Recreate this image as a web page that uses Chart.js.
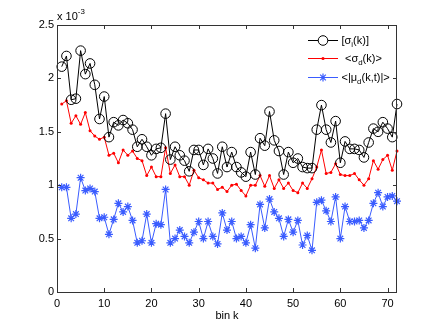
<!DOCTYPE html>
<html lang="en">
<head>
<meta charset="UTF-8">
<title>bin k</title>
<script src="https://cdn.jsdelivr.net/npm/chart.js"></script>
<style>
  body { margin:0; background:#fff; }
  #wrap { width:438px; height:329px; }
</style>
</head>
<body>
<div id="wrap"><canvas id="c" width="438" height="329"></canvas></div>
<script>
// values are in units of 1e-3 (axis shows "x 10^-3")
const bins = [1,2,3,4,5,6,7,8,9,10,11,12,13,14,15,16,17,18,19,20,21,22,23,24,25,26,27,28,29,30,31,32,33,34,35,36,
  37,38,39,40,41,42,43,44,45,46,47,48,49,50,51,52,53,54,55,56,57,58,59,60,61,62,63,64,65,66,67,68,69,70,71,72];
const sigmaI = [2.11,2.21,1.80,1.81,2.26,2.04,2.14,1.94,1.62,1.83, 1.45,1.59,1.56,1.61,1.58,1.52,1.36,1.43,1.36,1.28,
  1.34,1.35,1.67,1.24,1.36,1.28,1.23,1.13,1.33,1.33, 1.19,1.34,1.25,1.11,1.36,1.17,1.31,1.17,1.12,1.08,
  1.31,1.10,1.44,1.37,1.69,1.42,1.32,1.10,1.31,1.21, 1.25,1.17,1.16,1.16,1.52,1.75,1.52,1.40,1.60,1.21,
  1.41,1.34,1.34,1.33,1.26,1.40,1.53,1.50,1.59,1.53,1.45,1.76];
const sigmaD = [1.76,1.79,1.58,1.65,1.57,1.68,1.51,1.46,1.43,1.45, 1.28,1.30,1.21,1.33,1.28,1.32,1.25,1.23,1.09,1.17,
  1.08,1.08,1.35,1.11,1.19,1.08,1.08,1.00,1.14,1.07, 1.05,1.02,1.02,0.96,0.98,0.94,1.00,1.01,0.95,0.90,
  1.00,1.00,1.09,0.99,1.09,0.97,1.05,0.97,1.02,0.95, 0.93,1.02,0.97,1.06,1.17,1.33,1.11,1.12,1.20,1.10,
  1.09,1.09,1.11,1.05,1.00,1.06,1.23,1.15,1.24,1.28,1.14,1.32];
const muD = [0.98,0.98,0.69,0.73,1.07,0.95,0.97,0.94,0.69,0.70, 0.54,0.68,0.83,0.75,0.80,0.67,0.46,0.48,0.73,0.46,
  0.64,0.63,0.96,0.46,0.50,0.58,0.52,0.46,0.56,0.66, 0.50,0.66,0.52,0.45,0.74,0.58,0.66,0.50,0.52,0.46,
  0.63,0.41,0.82,0.60,0.87,0.75,0.69,0.52,0.68,0.56, 0.67,0.44,0.53,0.39,0.84,0.86,0.76,0.66,0.89,0.50,
  0.80,0.66,0.66,0.67,0.60,0.67,0.83,0.93,0.80,0.89,0.90,0.85];
const xTicks = [0,10,20,30,40,50,60,70];
const yTicks = [0,0.5,1,1.5,2,2.5];

const FONT = "'Liberation Sans', Arial, sans-serif";
const BLUE = '#3a5cff';

function pts(vals){ return bins.map((k,i) => ({x:k, y:vals[i]})); }

// draw text with sub/superscript pieces: [text, 'n'|'sub'|'sup']
function richText(ctx, parts, x, y, size){
  ctx.textBaseline = 'middle';
  ctx.textAlign = 'left';
  parts.forEach(([t, kind]) => {
    const s = kind === 'n' ? size : size * 0.72;
    const dy = kind === 'sub' ? size * 0.35 : kind === 'sup' ? -size * 0.45 : 0;
    ctx.font = s + 'px ' + FONT;
    ctx.fillText(t, x, y + dy);
    x += ctx.measureText(t).width;
  });
}

const frame = {
  id: 'frame',
  afterDraw(chart){
    const {ctx, chartArea:a, scales:{x, y}} = chart;
    ctx.save();
    ctx.strokeStyle = '#333';
    ctx.lineWidth = 1;
    ctx.strokeRect(Math.round(a.left)+0.5, Math.round(a.top)+0.5, Math.round(a.right-a.left)-1, Math.round(a.bottom-a.top));
    ctx.beginPath();
    xTicks.forEach(v => {
      const px = Math.round(x.getPixelForValue(v)) + 0.5;
      ctx.moveTo(px, a.bottom); ctx.lineTo(px, a.bottom - 4);
      ctx.moveTo(px, a.top); ctx.lineTo(px, a.top + 4);
    });
    yTicks.forEach(v => {
      const py = Math.round(y.getPixelForValue(v)) + 0.5;
      ctx.moveTo(a.left, py); ctx.lineTo(a.left + 4, py);
      ctx.moveTo(a.right, py); ctx.lineTo(a.right - 4, py);
    });
    ctx.stroke();

    ctx.fillStyle = '#000';
    richText(ctx, [['x 10','n'],['-3','sup']], 57, 17, 11);

    // legend
    const rows = [
      {y:40.5, color:'#000', mark:'circle', tx:341.5, parts:[['[σ','n'],['i','sub'],['(k)]','n']]},
      {y:58.5, color:'#ff0000', mark:'dot', tx:345, parts:[['<σ','n'],['d','sub'],['(k)>','n']]},
      {y:77.5, color:BLUE, mark:'star', tx:341.5, parts:[['<|μ','n'],['d','sub'],['(k,t)|>','n']]}
    ];
    rows.forEach(r => {
      ctx.strokeStyle = r.color; ctx.fillStyle = r.color; ctx.lineWidth = 1;
      ctx.beginPath(); ctx.moveTo(308, r.y); ctx.lineTo(338, r.y); ctx.stroke();
      const cx = 323;
      if (r.mark === 'circle') {
        ctx.beginPath(); ctx.arc(cx, r.y, 4.8, 0, Math.PI*2); ctx.fillStyle = '#fff'; ctx.fill(); ctx.stroke();
      } else if (r.mark === 'dot') {
        ctx.beginPath(); ctx.arc(cx, r.y, 1.6, 0, Math.PI*2); ctx.fill();
      } else {
        ctx.lineWidth = 1.2;
        ctx.beginPath();
        for (let i = 0; i < 4; i++) {
          const ang = i * Math.PI / 4;
          ctx.moveTo(cx - 4*Math.cos(ang), r.y - 4*Math.sin(ang));
          ctx.lineTo(cx + 4*Math.cos(ang), r.y + 4*Math.sin(ang));
        }
        ctx.stroke();
      }
      ctx.fillStyle = '#000';
      richText(ctx, r.parts, r.tx, r.y, 11);
    });
    ctx.restore();
  }
};

new Chart(document.getElementById('c').getContext('2d'), {
  type: 'line',
  data: {
    datasets: [
      { label:'[σi(k)]', data: pts(sigmaI), borderColor:'#000', borderWidth:1, tension:0, clip:false,
        pointStyle:'circle', pointRadius:4.8, pointBorderColor:'#000', pointBackgroundColor:'rgba(0,0,0,0)', pointBorderWidth:1 },
      { label:'<σd(k)>', data: pts(sigmaD), borderColor:'#ff0000', borderWidth:1, tension:0, clip:false,
        pointStyle:'circle', pointRadius:1.5, pointBorderColor:'#ff0000', pointBackgroundColor:'#ff0000', pointBorderWidth:0 },
      { label:'<|μd(k,t)|>', data: pts(muD), borderColor:BLUE, borderWidth:1, tension:0, clip:false,
        pointStyle:'star', pointRadius:4, pointBorderColor:BLUE, pointBorderWidth:1.2 }
    ]
  },
  options: {
    responsive: false,
    animation: false,
    layout: { padding: { left:0, right:41, top:25, bottom:0 } },
    plugins: { legend: { display:false }, tooltip: { enabled:false } },
    scales: {
      x: {
        type:'linear', min:0, max:72,
        afterFit: s => { s.height = 37; },
        afterBuildTicks: s => { s.ticks = xTicks.map(v => ({value:v})); },
        grid: { display:false, drawTicks:false },
        border: { display:false },
        ticks: { padding:5, color:'#000', maxRotation:0, autoSkip:false, font:{family:FONT, size:11} },
        title: { display:true, text:'bin k', color:'#000', font:{family:FONT, size:11}, padding:{top:0, bottom:6} }
      },
      y: {
        type:'linear', min:0, max:2.5,
        afterFit: s => { s.width = 57; },
        afterBuildTicks: s => { s.ticks = yTicks.map(v => ({value:v})); },
        grid: { display:false, drawTicks:false },
        border: { display:false },
        ticks: { padding:3, color:'#000', autoSkip:false, font:{family:FONT, size:11}, callback: v => String(v) }
      }
    }
  },
  plugins: [frame]
});
</script>
</body>
</html>
